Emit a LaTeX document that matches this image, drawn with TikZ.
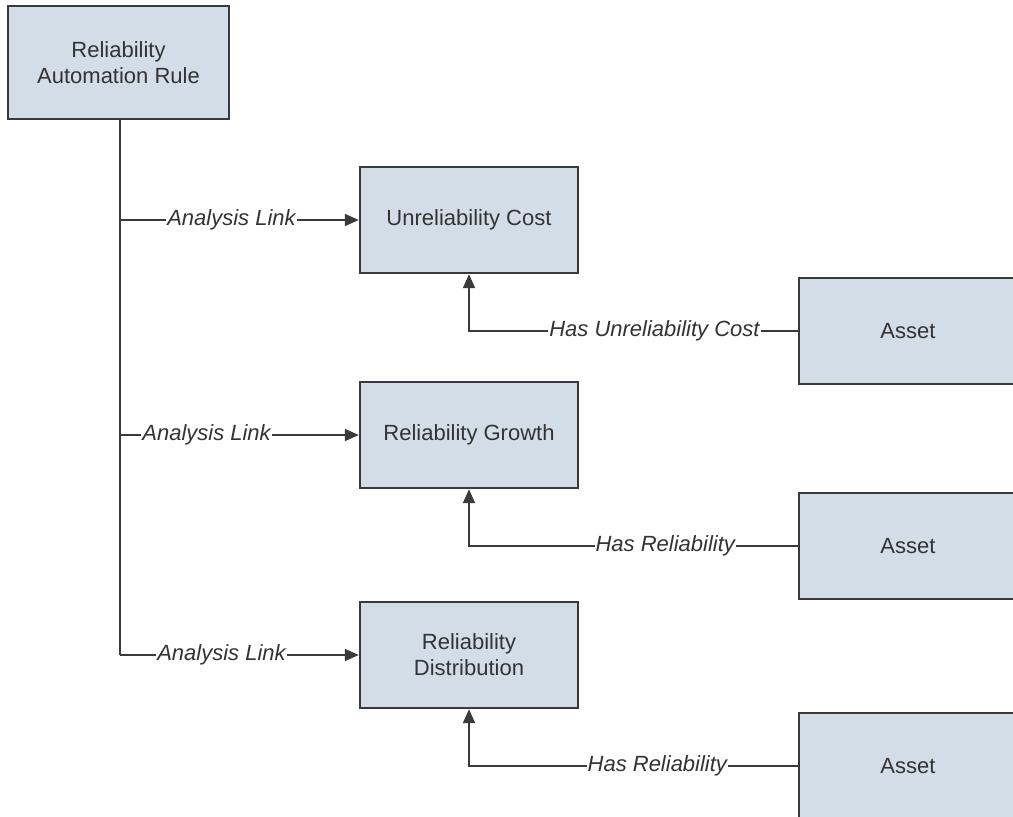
\documentclass[tikz,border=0pt]{standalone}
\usepackage{fontspec}
\setmainfont{Liberation Sans}
\usetikzlibrary{arrows.meta}
\definecolor{boxfill}{HTML}{D3DDE8}
\definecolor{boxline}{HTML}{3A3A3A}
\definecolor{txt}{HTML}{333333}
\tikzset{
  entity/.style={draw=boxline, line width=2.4pt, fill=boxfill, minimum width=218pt, minimum height=106pt, inner sep=0pt, align=center, text=txt, font=\fontsize{22}{26}\selectfont},
  link/.style={draw=boxline, line width=2pt, -{Triangle[length=14pt,width=12pt]}},
  lab/.style={fill=white, inner sep=1pt, text=txt, font=\fontsize{22}{26}\selectfont\itshape}
}
\begin{document}
\begin{tikzpicture}[x=1pt,y=-1pt]
\useasboundingbox (0,0) rectangle (1013,817);
\clip (0,0) rectangle (1013,817);
\node[entity, minimum width=221pt, minimum height=113pt] (rar) at (118.5,62.5) {Reliability\\Automation Rule};
\node[entity] (uc) at (469,220) {Unreliability Cost};
\node[entity] (rg) at (469,435) {Reliability Growth};
\node[entity] (rd) at (469,655) {Reliability\\Distribution};
\node[entity] (a1) at (908,331) {Asset};
\node[entity] (a2) at (908,546) {Asset};
\node[entity] (a3) at (908,766) {Asset};
\coordinate (t1) at (120,220);
\coordinate (t2) at (120,435);
\coordinate (t3) at (120,655);
\draw[draw=boxline, line width=2pt] (rar.south -| t1) -- (t3);
\draw[link] (t1) -- node[lab, pos=0.467] {Analysis Link} (uc.west);
\draw[link] (t2) -- node[lab, pos=0.3625] {Analysis Link} (rg.west);
\draw[link] (t3) -- node[lab, pos=0.425] {Analysis Link} (rd.west);
\draw[link] (a1.west) -| node[lab, pos=0.218] {Has Unreliability Cost} (uc.south);
\draw[link] (a2.west) -| node[lab, pos=0.2015] {Has Reliability} (rg.south);
\draw[link] (a3.west) -| node[lab, pos=0.2136] {Has Reliability} (rd.south);
\end{tikzpicture}
\end{document}
